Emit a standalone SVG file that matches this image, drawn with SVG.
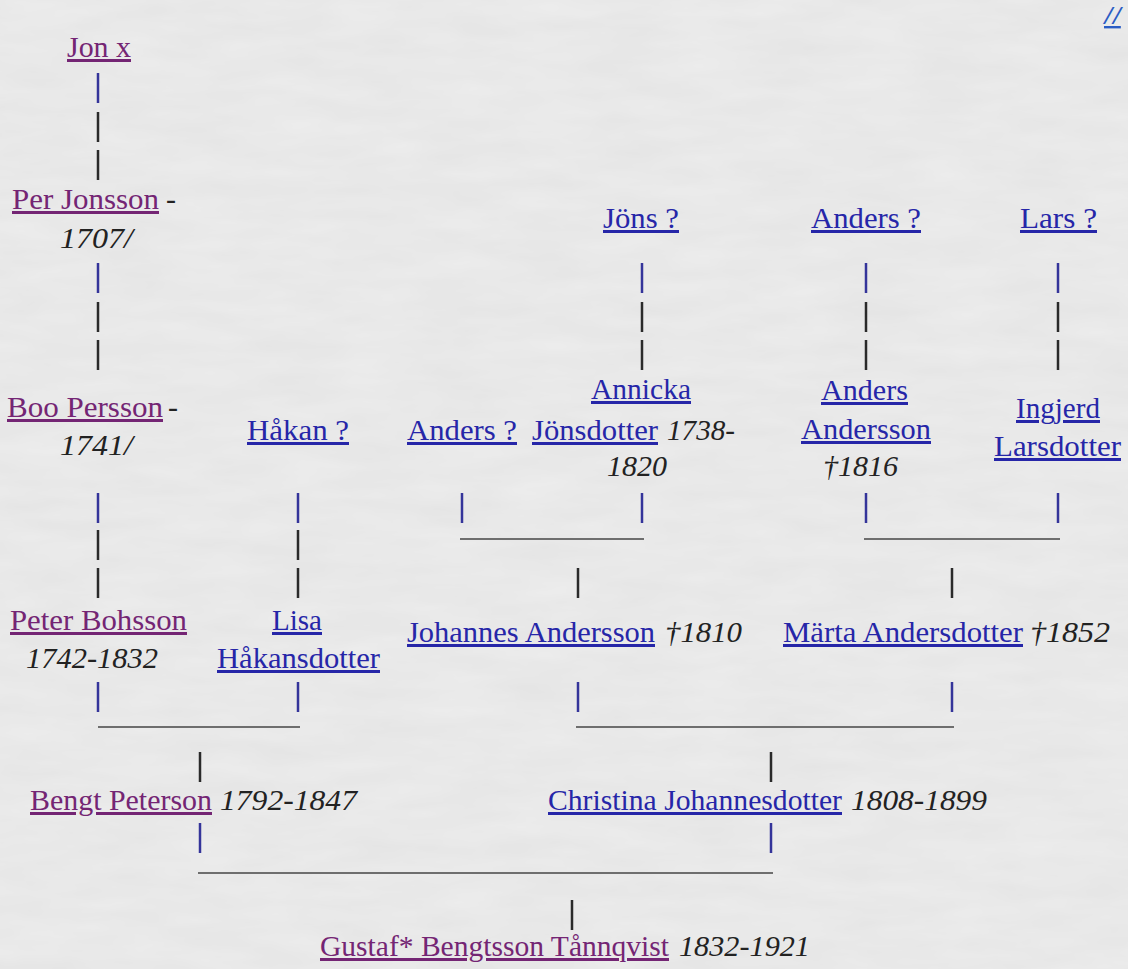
<svg xmlns="http://www.w3.org/2000/svg" width="1128" height="969" viewBox="0 0 1128 969">
<style>
  .n { font-family: 'Liberation Serif', 'DejaVu Serif', serif; font-size: 30px; text-decoration: underline; }
  .v { fill: #742574; }
  .u { fill: #2626a8; }
  .y { font-family: 'Liberation Serif', 'DejaVu Serif', serif; font-size: 30px; font-style: italic; fill: #222; }
  .d { font-family: 'Liberation Serif', 'DejaVu Serif', serif; font-size: 30px; fill: #222; }
  .bb { stroke: #34349a; stroke-width: 2.5; }
  .bk { stroke: #2a2a2a; stroke-width: 2.5; }
  .hr { stroke: #6e6e6e; stroke-width: 2; }
</style>
<defs>
  <filter id="paper" x="0" y="0" width="100%" height="100%">
    <feTurbulence type="fractalNoise" baseFrequency="0.012 0.05" numOctaves="3" seed="4" result="t"/>
    <feColorMatrix type="matrix" values="0 0 0 0 0.5  0 0 0 0 0.5  0 0 0 0 0.5  0 0 0 0.18 0" in="t"/>
  </filter>
</defs>
<rect width="1128" height="969" fill="#ededed"/>
<rect width="1128" height="969" filter="url(#paper)"/>

<text x="1104" y="24" font-family="'Open Sans', sans-serif" font-size="24" font-style="italic" fill="#2a5cc4" text-decoration="underline">//</text>

<g id="connectors">
  <line class="bb" x1="98" y1="73" x2="98" y2="103"/>
  <line class="bk" x1="98" y1="112" x2="98" y2="142"/>
  <line class="bk" x1="98" y1="150" x2="98" y2="180"/>
  <line class="bb" x1="98" y1="263" x2="98" y2="293"/>
  <line class="bk" x1="98" y1="302" x2="98" y2="332"/>
  <line class="bk" x1="98" y1="340" x2="98" y2="370"/>
  <line class="bb" x1="98" y1="493" x2="98" y2="523"/>
  <line class="bk" x1="98" y1="530" x2="98" y2="560"/>
  <line class="bk" x1="98" y1="568" x2="98" y2="598"/>
  <line class="bb" x1="298" y1="493" x2="298" y2="523"/>
  <line class="bk" x1="298" y1="530" x2="298" y2="560"/>
  <line class="bk" x1="298" y1="568" x2="298" y2="598"/>
  <line class="bb" x1="642" y1="263" x2="642" y2="293"/>
  <line class="bk" x1="642" y1="302" x2="642" y2="332"/>
  <line class="bk" x1="642" y1="340" x2="642" y2="370"/>
  <line class="bb" x1="866" y1="263" x2="866" y2="293"/>
  <line class="bk" x1="866" y1="302" x2="866" y2="332"/>
  <line class="bk" x1="866" y1="340" x2="866" y2="370"/>
  <line class="bb" x1="1058" y1="263" x2="1058" y2="293"/>
  <line class="bk" x1="1058" y1="302" x2="1058" y2="332"/>
  <line class="bk" x1="1058" y1="340" x2="1058" y2="370"/>
  <line class="bb" x1="462" y1="493" x2="462" y2="523"/>
  <line class="bb" x1="642" y1="493" x2="642" y2="523"/>
  <line class="hr" x1="460" y1="539" x2="644" y2="539"/>
  <line class="bk" x1="578" y1="568" x2="578" y2="598"/>
  <line class="bb" x1="866" y1="493" x2="866" y2="523"/>
  <line class="bb" x1="1058" y1="493" x2="1058" y2="523"/>
  <line class="hr" x1="864" y1="539" x2="1060" y2="539"/>
  <line class="bk" x1="952" y1="568" x2="952" y2="598"/>
  <line class="bb" x1="98" y1="682" x2="98" y2="712"/>
  <line class="bb" x1="298" y1="682" x2="298" y2="712"/>
  <line class="hr" x1="98" y1="727" x2="300" y2="727"/>
  <line class="bk" x1="200" y1="752" x2="200" y2="782"/>
  <line class="bb" x1="578" y1="682" x2="578" y2="712"/>
  <line class="bb" x1="952" y1="682" x2="952" y2="712"/>
  <line class="hr" x1="576" y1="727" x2="954" y2="727"/>
  <line class="bk" x1="771" y1="752" x2="771" y2="782"/>
  <line class="bb" x1="200" y1="823" x2="200" y2="853"/>
  <line class="bb" x1="771" y1="823" x2="771" y2="853"/>
  <line class="hr" x1="198" y1="873" x2="773" y2="873"/>
  <line class="bk" x1="572" y1="900" x2="572" y2="930"/>
</g>

<g id="jon-x">
  <text class="n v" x="67" y="57" textLength="64" lengthAdjust="spacingAndGlyphs">Jon x</text>
</g>
<g id="per-jonsson">
  <text class="n v" x="12" y="209" textLength="147" lengthAdjust="spacingAndGlyphs">Per Jonsson</text>
  <text class="d" x="166" y="209">-</text>
  <text class="y" x="60" y="248" textLength="73" lengthAdjust="spacingAndGlyphs">1707/</text>
</g>
<g id="boo-persson">
  <text class="n v" x="7" y="417" textLength="156" lengthAdjust="spacingAndGlyphs">Boo Persson</text>
  <text class="d" x="168" y="417">-</text>
  <text class="y" x="60" y="455" textLength="73" lengthAdjust="spacingAndGlyphs">1741/</text>
</g>
<g id="hakan">
  <text class="n u" x="247" y="440" textLength="102" lengthAdjust="spacingAndGlyphs">Håkan ?</text>
</g>
<g id="anders-1">
  <text class="n u" x="407" y="440" textLength="110" lengthAdjust="spacingAndGlyphs">Anders ?</text>
</g>
<g id="jons">
  <text class="n u" x="603" y="228" textLength="76" lengthAdjust="spacingAndGlyphs">Jöns ?</text>
</g>
<g id="annicka">
  <text class="n u" x="591" y="399" textLength="100" lengthAdjust="spacingAndGlyphs">Annicka</text>
  <text class="n u" x="532" y="440" textLength="126" lengthAdjust="spacingAndGlyphs">Jönsdotter</text>
  <text class="y" x="667" y="440" textLength="68" lengthAdjust="spacingAndGlyphs">1738-</text>
  <text class="y" x="607" y="476" textLength="60" lengthAdjust="spacingAndGlyphs">1820</text>
</g>
<g id="anders-2">
  <text class="n u" x="811" y="228" textLength="110" lengthAdjust="spacingAndGlyphs">Anders ?</text>
</g>
<g id="anders-andersson">
  <text class="n u" x="821" y="400" textLength="87" lengthAdjust="spacingAndGlyphs">Anders</text>
  <text class="n u" x="801" y="439" textLength="130" lengthAdjust="spacingAndGlyphs">Andersson</text>
  <text class="y" x="823" y="476" textLength="75" lengthAdjust="spacingAndGlyphs">†1816</text>
</g>
<g id="lars">
  <text class="n u" x="1020" y="228" textLength="77" lengthAdjust="spacingAndGlyphs">Lars ?</text>
</g>
<g id="ingjerd">
  <text class="n u" x="1016" y="418" textLength="84" lengthAdjust="spacingAndGlyphs">Ingjerd</text>
  <text class="n u" x="994" y="456" textLength="127" lengthAdjust="spacingAndGlyphs">Larsdotter</text>
</g>
<g id="peter-bohsson">
  <text class="n v" x="10" y="630" textLength="177" lengthAdjust="spacingAndGlyphs">Peter Bohsson</text>
  <text class="y" x="26" y="668" textLength="132" lengthAdjust="spacingAndGlyphs">1742-1832</text>
</g>
<g id="lisa">
  <text class="n u" x="272" y="630" textLength="50" lengthAdjust="spacingAndGlyphs">Lisa</text>
  <text class="n u" x="217" y="668" textLength="163" lengthAdjust="spacingAndGlyphs">Håkansdotter</text>
</g>
<g id="johannes">
  <text class="n u" x="407" y="642" textLength="248" lengthAdjust="spacingAndGlyphs">Johannes Andersson</text>
  <text class="y" x="665" y="642" textLength="77" lengthAdjust="spacingAndGlyphs">†1810</text>
</g>
<g id="marta">
  <text class="n u" x="783" y="642" textLength="240" lengthAdjust="spacingAndGlyphs">Märta Andersdotter</text>
  <text class="y" x="1030" y="642" textLength="80" lengthAdjust="spacingAndGlyphs">†1852</text>
</g>
<g id="bengt">
  <text class="n v" x="30" y="810" textLength="182" lengthAdjust="spacingAndGlyphs">Bengt Peterson</text>
  <text class="y" x="220" y="810" textLength="137" lengthAdjust="spacingAndGlyphs">1792-1847</text>
</g>
<g id="christina">
  <text class="n u" x="548" y="810" textLength="294" lengthAdjust="spacingAndGlyphs">Christina Johannesdotter</text>
  <text class="y" x="851" y="810" textLength="136" lengthAdjust="spacingAndGlyphs">1808-1899</text>
</g>
<g id="gustaf">
  <text class="n v" x="320" y="956" textLength="349" lengthAdjust="spacingAndGlyphs">Gustaf* Bengtsson Tånnqvist</text>
  <text class="y" x="679" y="956" textLength="131" lengthAdjust="spacingAndGlyphs">1832-1921</text>
</g>
</svg>
